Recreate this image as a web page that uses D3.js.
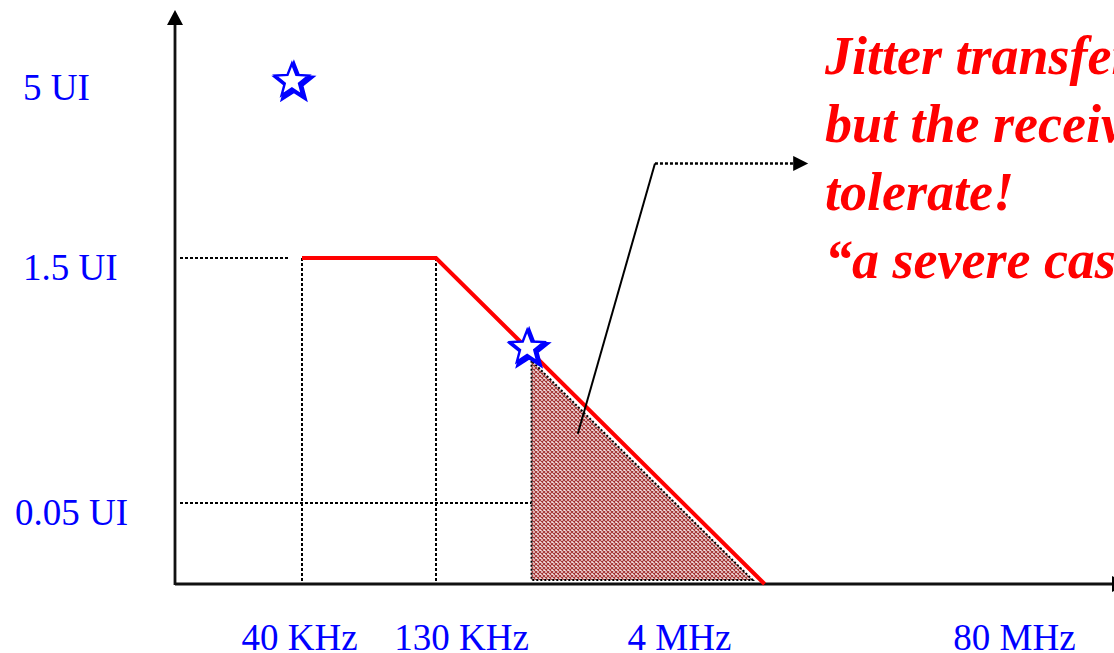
<!DOCTYPE html>
<html lang="en">
<head>
<meta charset="utf-8">
<title>Jitter tolerance mask</title>
<script src="https://d3js.org/d3.v7.min.js"></script>
<style>
  body { margin: 0; background: #fff; }
  svg { display: block; }
  .lbl text { font-family: "Liberation Serif", "Times New Roman", serif; font-size: 37px; fill: #0000ff; }
  .note { font-family: "Liberation Serif", "Times New Roman", serif; font-size: 54px; font-weight: bold; font-style: italic; fill: #ff0000; }
</style>
</head>
<body>
<script>
// data (schematic axes)
var xTickFreqs = [40e3, 130e3, 4e6, 80e6];
var xTickLabels = ["40 KHz", "130 KHz", "4 MHz", "80 MHz"];
var yTickValues = [5, 1.5, 0.05];
var yTickLabels = ["5 UI", "1.5 UI", "0.05 UI"];

// tolerance mask (red)
var maskFreqs = [40e3, 130e3, 8.6e6];
var maskUI = [1.5, 1.5, 0];

// region where the receiver fails
var failStartFreq = 500e3;

// stars
var starFreqs = [37e3, 470e3];
var starUI = [5, 0.97];

// callout pointer
var pointerFreqs = [0.96e6, 2.85e6, 12.7e6];
var pointerUI = [0.46, 3.37, 3.37];

var noteLines = ["Jitter transfer is OK,", "but the receiver can\u2019t", "tolerate!", "\u201ca severe case\u201d"];

// layout
var w = 1114, h = 653;
var xLabelShift = [-3, 25, 0, 0];
var yLabelX = [23, 23, 15];

// piecewise scales, the slide axes are not to scale
var x = d3.scaleLog()
    .domain([15e3, 40e3, 130e3, 4e6, 80e6])
    .range([175, 302, 436, 679, 1014]);
var y = d3.scaleLinear()
    .domain([0, 0.05, 1.5, 5])
    .range([584, 503, 258, 81]);

var x0 = x.range()[0], y0 = y(0);

var svg = d3.select("body").append("svg")
    .attr("width", w)
    .attr("height", h);

var defs = svg.append("defs");
var pat = defs.append("pattern")
    .attr("id", "hatch")
    .attr("width", 4)
    .attr("height", 4)
    .attr("patternUnits", "userSpaceOnUse");
pat.append("rect").attr("width", 4).attr("height", 4).attr("fill", "#f4e2e2");
pat.append("path")
    .attr("d", "M-1,-1L5,5M5,-1L-1,5")
    .attr("stroke", "#a33434")
    .attr("stroke-width", 1.1);

defs.append("marker")
    .attr("id", "tip")
    .attr("viewBox", "0 0 10 10")
    .attr("refX", 0).attr("refY", 5)
    .attr("markerWidth", 16).attr("markerHeight", 15)
    .attr("markerUnits", "userSpaceOnUse")
    .attr("orient", "auto")
    .append("path")
    .attr("d", "M0,0L10,5L0,10Z")
    .attr("fill", "#000");

var mask = maskFreqs.map(function(f, i) { return [x(f), y(maskUI[i])]; });

// point on the falling edge at a given frequency
function edgeY(f) {
    var a = mask[1], b = mask[2];
    return a[1] + (x(f) - a[0]) / (b[0] - a[0]) * (b[1] - a[1]);
}

// hatched failure region, sits just inside the red edge
var fx = x(failStartFreq);
var inset = 8;
var hatch = [
    [fx, edgeY(failStartFreq) + inset],
    [fx, y0 - 4],
    [mask[2][0] + (y0 - 4 - mask[2][1]) * (mask[2][0] - mask[1][0]) / (mask[2][1] - mask[1][1]) - inset, y0 - 4]
];
svg.append("path")
    .attr("d", d3.line()(hatch) + "Z")
    .attr("fill", "url(#hatch)")
    .attr("stroke", "#000")
    .attr("stroke-width", 2)
    .attr("stroke-dasharray", "2,2");

// dotted guides
var dots = svg.append("g")
    .attr("stroke", "#000")
    .attr("stroke-width", 2)
    .attr("stroke-dasharray", "3,2")
    .attr("fill", "none");
dots.append("line")
    .attr("x1", x0 + 5).attr("x2", x(40e3) - 14)
    .attr("y1", y(1.5)).attr("y2", y(1.5));
dots.append("line")
    .attr("x1", x0 + 5).attr("x2", fx)
    .attr("y1", y(0.05)).attr("y2", y(0.05));
[40e3, 130e3].forEach(function(f) {
    dots.append("line")
        .attr("x1", x(f)).attr("x2", x(f))
        .attr("y1", y(1.5)).attr("y2", y0);
});

// axes
var ax = svg.append("g").attr("stroke", "#111").attr("stroke-width", 2.8);
ax.append("line").attr("x1", x0).attr("x2", x0).attr("y1", y0 + 1).attr("y2", 24);
ax.append("line").attr("x1", x0).attr("x2", w - 1).attr("y1", y0).attr("y2", y0);
svg.append("path")
    .attr("d", "M" + x0 + ",10L" + (x0 - 8) + ",25L" + (x0 + 8) + ",25Z")
    .attr("fill", "#000");
svg.append("path")
    .attr("d", "M" + (w - 2) + "," + (y0 - 8) + "L" + (w + 14) + "," + y0 + "L" + (w - 2) + "," + (y0 + 8) + "Z")
    .attr("fill", "#000");

// red tolerance mask
svg.append("path")
    .attr("d", d3.line()(mask))
    .attr("fill", "none")
    .attr("stroke", "#ff0000")
    .attr("stroke-width", 4);

// callout
var ptr = pointerFreqs.map(function(f, i) { return [x(f), y(pointerUI[i])]; });
svg.append("line")
    .attr("x1", ptr[0][0]).attr("y1", ptr[0][1])
    .attr("x2", ptr[1][0]).attr("y2", ptr[1][1])
    .attr("stroke", "#000").attr("stroke-width", 2);
svg.append("line")
    .attr("x1", ptr[1][0]).attr("y1", ptr[1][1])
    .attr("x2", ptr[2][0] - 15).attr("y2", ptr[2][1])
    .attr("stroke", "#000").attr("stroke-width", 2.5)
    .attr("stroke-dasharray", "3,2")
    .attr("marker-end", "url(#tip)");

// stars
function starPath(cx, cy, R, r) {
    var pts = d3.range(10).map(function(k) {
        var a = -Math.PI / 2 + k * Math.PI / 5;
        var rr = k % 2 ? r : R;
        return [cx + rr * Math.cos(a), cy + rr * Math.sin(a)];
    });
    return d3.line()(pts) + "Z";
}
starFreqs.forEach(function(f, i) {
    var cx = x(f), cy = y(starUI[i]);
    svg.append("path")
        .attr("d", starPath(cx + 2, cy + 2, 17.5, 7.5))
        .attr("fill", "none")
        .attr("stroke", "#0000ff")
        .attr("stroke-width", 4.5)
        .attr("stroke-linejoin", "miter");
    svg.append("path")
        .attr("d", starPath(cx, cy, 17.5, 7.5))
        .attr("fill", "#fff")
        .attr("stroke", "#0000ff")
        .attr("stroke-width", 2.4);
});

// tick labels via d3 axes
var xAxis = d3.axisBottom(x)
    .tickValues(xTickFreqs)
    .tickFormat(function(d, i) { return xTickLabels[i]; })
    .tickSize(0);
var gx = svg.append("g").attr("class", "lbl").call(xAxis);
gx.select(".domain").remove();
gx.selectAll("text")
    .attr("y", 650)
    .attr("dy", 0)
    .attr("dx", function(d, i) { return xLabelShift[i]; });

var yAxis = d3.axisLeft(y)
    .tickValues(yTickValues)
    .tickFormat(function(d, i) { return yTickLabels[i]; })
    .tickSize(0);
var gy = svg.append("g").attr("class", "lbl").call(yAxis);
gy.select(".domain").remove();
gy.selectAll("text")
    .attr("text-anchor", "start")
    .attr("x", function(d, i) { return yLabelX[i]; })
    .attr("dy", 0)
    .attr("y", function(d, i) { return i === 0 ? 18 : 21; });

// red note
var note = svg.append("text").attr("class", "note");
note.selectAll("tspan")
    .data(noteLines)
    .enter()
    .append("tspan")
    .attr("x", 825)
    .attr("y", function(d, i) { return 74 + i * 68; })
    .text(function(d) { return d; });
</script>
</body>
</html>
